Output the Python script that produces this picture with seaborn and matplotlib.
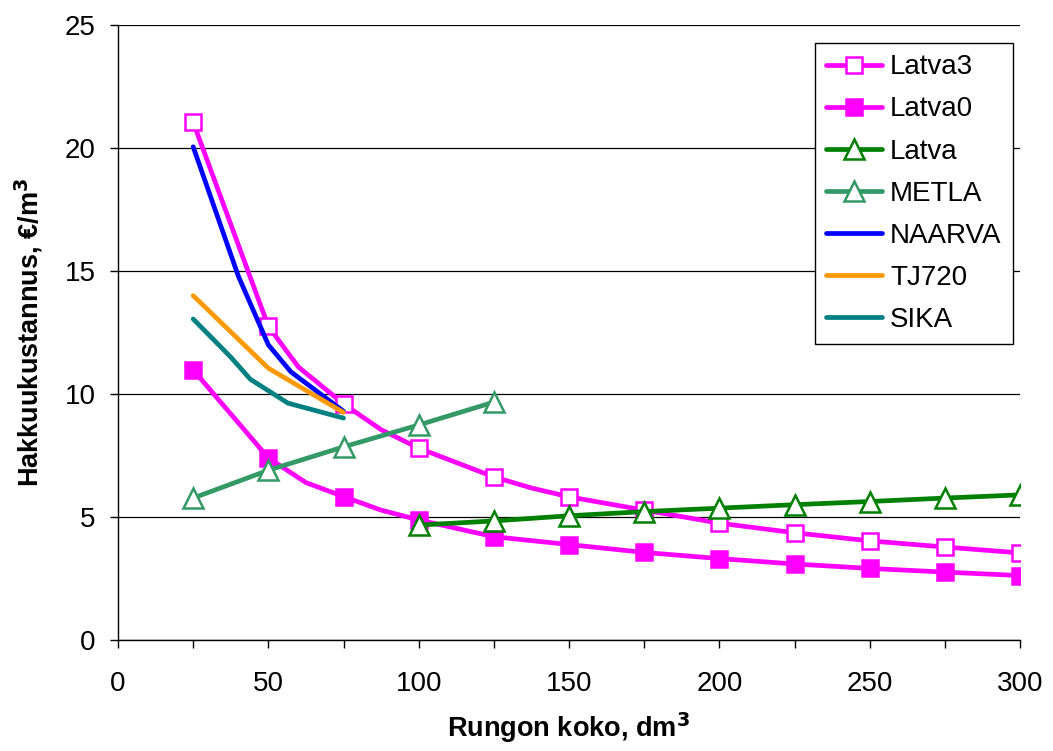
import matplotlib
matplotlib.use("Agg")
import matplotlib.pyplot as plt
import seaborn as sns
import pandas as pd
from matplotlib.ticker import MultipleLocator

# ---- data ----
latva3_x = [25, 37.5, 50, 60, 75, 87.5, 100, 125, 137.5, 150, 175, 200, 225, 250, 275, 300]
latva3_y = [21.05, 16.9, 12.75, 11.1, 9.6, 8.55, 7.8, 6.63, 6.18, 5.82, 5.28, 4.75, 4.36, 4.03, 3.78, 3.54]

latva0_x = [25, 50, 55, 62.5, 75, 87.5, 100, 125, 150, 175, 200, 225, 250, 275, 300]
latva0_y = [10.98, 7.4, 7.0, 6.4, 5.83, 5.28, 4.88, 4.2, 3.88, 3.56, 3.31, 3.09, 2.91, 2.76, 2.62]

latva_x = [100, 125, 150, 175, 200, 225, 250, 275, 300]
latva_y = [4.67, 4.84, 5.05, 5.22, 5.36, 5.5, 5.63, 5.77, 5.9]

metla_x = [25, 50, 75, 100, 125]
metla_y = [5.77, 6.9, 7.85, 8.74, 9.67]

naarva_x = [25, 40, 50, 57.5, 75]
naarva_y = [20.05, 14.8, 12.0, 10.9, 9.3]

tj720_x = [25, 50, 75]
tj720_y = [14.0, 11.05, 9.25]

sika_x = [25, 37.5, 44, 56.5, 75]
sika_y = [13.05, 11.5, 10.6, 9.63, 9.02]

x_ticks = [0, 50, 100, 150, 200, 250, 300]
y_ticks = [0, 5, 10, 15, 20, 25]

sns.set_style("white")
plt.rcParams['font.family'] = ['Liberation Sans', 'DejaVu Sans']
plt.rcParams['text.color'] = 'black'
plt.rcParams['axes.labelcolor'] = 'black'
plt.rcParams['xtick.color'] = 'black'
plt.rcParams['ytick.color'] = 'black'

fig = plt.figure(figsize=(10.53, 7.51), dpi=100)
ax = fig.add_axes([118/1053, 1-640/751, (1020-118)/1053, (640-25)/751])

series = [
    ("Latva3", latva3_x, latva3_y, "#FF00FF", "s", "white", "#FF00FF", 12),
    ("Latva0", latva0_x, latva0_y, "#FF00FF", "s", "#FF00FF", "#FF00FF", 12),
    ("Latva", latva_x, latva_y, "#008000", "^", "white", "#008000", 14),
    ("METLA", metla_x, metla_y, "#339966", "^", "white", "#339966", 14),
    ("NAARVA", naarva_x, naarva_y, "#0000FF", None, None, None, 0),
    ("TJ720", tj720_x, tj720_y, "#FF9900", None, None, None, 0),
    ("SIKA", sika_x, sika_y, "#008080", None, None, None, 0),
]

for name, xs, ys, col, mk, mfc, mec, ms in series:
    df = pd.DataFrame({"x": xs, "y": ys})
    kw = dict(color=col, linewidth=3.4, label=name, estimator=None, ax=ax)
    if mk is not None:
        every = [i for i, v in enumerate(xs) if v % 25 == 0]
        kw.update(marker=mk, markersize=ms, markerfacecolor=mfc,
                  markeredgecolor=mec, markeredgewidth=1.8, markevery=every)
    sns.lineplot(data=df, x="x", y="y", **kw)

ax.set_xlim(0, 300)
ax.set_ylim(0, 25)
ax.set_xticks(x_ticks)
ax.xaxis.set_minor_locator(MultipleLocator(25))
ax.set_yticks(y_ticks)
ax.yaxis.grid(True, color="black", linewidth=0.9)
ax.set_axisbelow(True)
for s in ["top", "right"]:
    ax.spines[s].set_visible(False)
for s in ["left", "bottom"]:
    ax.spines[s].set_color("black")
    ax.spines[s].set_linewidth(1.0)
ax.tick_params(axis="both", which="both", direction="out", length=6, width=1,
               color="black", labelcolor="black", labelsize=20, bottom=True, left=True)
ax.tick_params(axis="x", which="minor", length=6)
ax.tick_params(axis="x", pad=16)
ax.tick_params(axis="y", pad=10)

ax.set_xlabel("Rungon koko, dm$^{\\mathbf{3}}$", fontsize=19.5, fontweight="bold", labelpad=10, color="black")
ax.set_ylabel("Hakkuukustannus, €/m$^{\\mathbf{3}}$", fontsize=19.5, fontweight="bold", labelpad=14, color="black")

leg = ax.legend(loc="upper left", bbox_to_anchor=(0.7575, 0.993), fontsize=20,
                frameon=True, fancybox=False, shadow=False, framealpha=1,
                edgecolor="black", borderpad=0.4, labelspacing=0.58,
                handlelength=2.0, handletextpad=0.3)
leg.get_frame().set_linewidth(1.0)
for t in leg.get_texts():
    t.set_color("black")

fig.savefig("out.png", dpi=100)
